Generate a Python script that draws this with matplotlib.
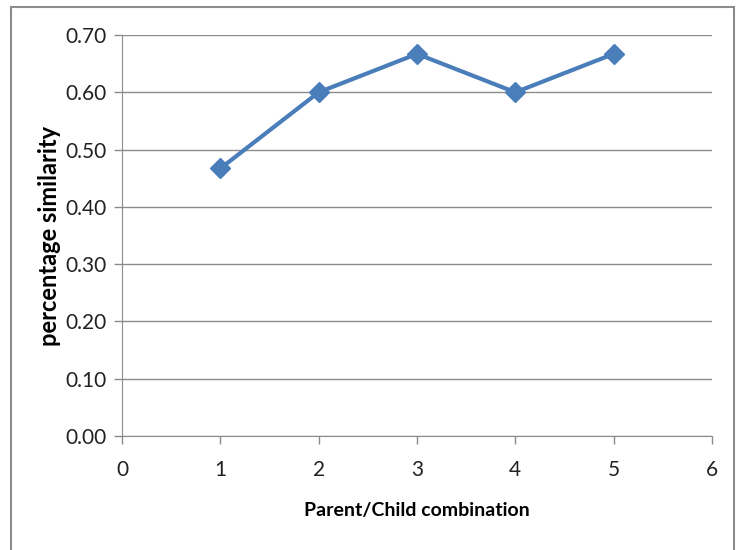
import matplotlib.pyplot as plt
from matplotlib.patches import Rectangle

combination = [1, 2, 3, 4, 5]
similarity = [0.467, 0.600, 0.667, 0.600, 0.667]
yticks = [0.0, 0.1, 0.2, 0.3, 0.4, 0.5, 0.6, 0.7]
xticks = [0, 1, 2, 3, 4, 5, 6]

plt.rcParams['font.family'] = ['Lato', 'DejaVu Sans']

W, H = 743, 550
fig = plt.figure(figsize=(W / 100, H / 100), dpi=100)
ax = fig.add_axes([122 / W, 1 - 436 / H, (712 - 122) / W, (436 - 35) / H])

# chart border
fig.patches.append(Rectangle((11 / W, -0.01), (734 - 11) / W, 1 - 7 / H + 0.01,
                             transform=fig.transFigure, fill=False,
                             edgecolor='#8c8c8c', linewidth=1.5))

ax.plot(combination, similarity, color='#4a7ebb', linewidth=3,
        marker='D', markersize=10, markerfacecolor='#4a7ebb',
        markeredgecolor='#4a7ebb', zorder=3)

ax.set_xlim(0, 6)
ax.set_ylim(0, 0.7)
ax.set_xticks(xticks)
ax.set_yticks(yticks)
ax.set_yticklabels(['%.2f' % v for v in yticks])
ax.grid(axis='y', color='#8c8c8c', linewidth=1)
ax.set_axisbelow(True)

for s in ['top', 'right']:
    ax.spines[s].set_visible(False)
for s in ['left', 'bottom']:
    ax.spines[s].set_color('#8c8c8c')
ax.tick_params(axis='both', colors='#8c8c8c', labelcolor='#222222',
               labelsize=15, length=6, width=1)
ax.tick_params(axis='y', pad=5)
ax.tick_params(axis='x', pad=11)

ax.set_xlabel('Parent/Child combination', fontsize=14, fontweight='bold',
              labelpad=16)
ax.set_ylabel('percentage similarity', fontsize=17, fontweight='bold',
              labelpad=3)

fig.savefig('out.png', dpi=100)
